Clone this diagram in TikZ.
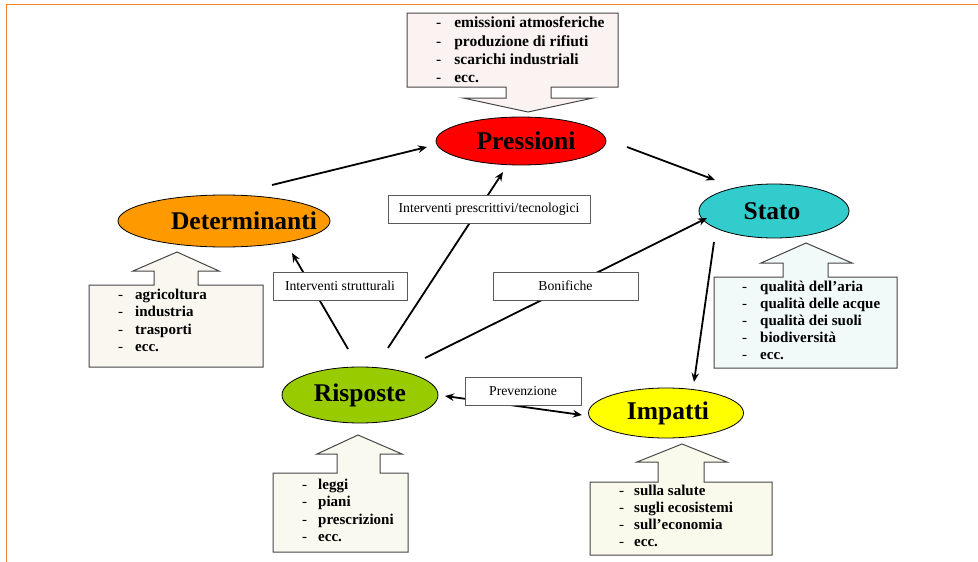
\documentclass[tikz,border=0pt]{standalone}
\usepackage{fontspec}
\setmainfont{Liberation Serif}
\usetikzlibrary{shapes.geometric,arrows.meta,calc}
\definecolor{frameor}{RGB}{242,128,44}
\definecolor{cred}{RGB}{255,0,0}
\definecolor{corange}{RGB}{255,153,0}
\definecolor{ccyan}{RGB}{51,204,204}
\definecolor{cgreen}{RGB}{153,204,0}
\definecolor{cyellow}{RGB}{255,255,0}
\definecolor{fpink}{RGB}{251,242,242}
\definecolor{fcream}{RGB}{249,247,240}
\definecolor{fcyan}{RGB}{242,249,249}
\definecolor{fcream2}{RGB}{249,249,240}
\definecolor{fyel}{RGB}{250,250,236}
\definecolor{boxgray}{RGB}{90,90,90}
\definecolor{callgray}{RGB}{70,70,70}
\tikzset{
  ell/.style={ellipse, draw=black, line width=0.8pt, inner sep=0pt},
  elltext/.style={inner sep=0pt, font=\fontsize{25.5}{28}\selectfont\bfseries},
  lbl/.style={draw=boxgray, fill=white, line width=1pt, inner sep=0pt,
    font=\fontsize{13.7}{16}\selectfont},
  conn/.style={line width=1.8pt, -{Stealth[length=9pt,width=7.5pt]}},
  dconn/.style={line width=1.8pt, {Stealth[length=9pt,width=7.5pt]}-{Stealth[length=9pt,width=7.5pt]}},
  callout/.style={draw=callgray, line width=1pt},
  bul/.style={anchor=west, inner sep=0pt, font=\fontsize{15}{17.3}\selectfont\bfseries, align=left}
}
\newcommand{\dl}{{\mdseries -}}
\begin{document}
\begin{tikzpicture}[x=1pt,y=-1pt]
\useasboundingbox (0,0) rectangle (978,562);
% slide frame
\draw[frameor, line width=1.6pt] (6.5,562) -- (6.5,4.5) -- (978,4.5);

% callouts
\draw[callout, fill=fpink] (407,13) -- (618,13) -- (618,87) -- (551,87) -- (551,98) -- (593,98) -- (528,112) -- (463,98) -- (506,98) -- (506,87) -- (407,87) -- cycle;
\draw[callout, fill=fcream] (89,367) -- (89,285) -- (154,285) -- (154,271) -- (133,271) -- (177,252) -- (219,271) -- (198,271) -- (198,285) -- (263,285) -- (263,367) -- cycle;
\draw[callout, fill=fcyan] (714,368) -- (714,277) -- (783,277) -- (783,263) -- (761,263) -- (806,243) -- (852,263) -- (828,263) -- (828,277) -- (897,277) -- (897,368) -- cycle;
\draw[callout, fill=fcream2] (273,552) -- (273,473) -- (337,473) -- (337,454) -- (317,454) -- (358,435) -- (402,454) -- (380,454) -- (380,473) -- (408,473) -- (408,552) -- cycle;
\draw[callout, fill=fyel] (590,555) -- (590,482) -- (658,482) -- (658,462) -- (637,462) -- (682,444) -- (727,462) -- (704,462) -- (704,482) -- (772,482) -- (772,555) -- cycle;

% callout texts
\node[bul, font=\fontsize{15.5}{18.3}\selectfont\bfseries] (tpre) at (436,51.5) {\begin{tabular}{@{}l@{\hspace{13pt}}l@{}}\dl & emissioni atmosferiche\\ \dl & produzione di rifiuti\\ \dl & scarichi industriali\\ \dl & ecc.\end{tabular}};
\node[bul] (tdet) at (118,322) {\begin{tabular}{@{}l@{\hspace{12pt}}l@{}}\dl & agricoltura\\ \dl & industria\\ \dl & trasporti\\ \dl & ecc.\end{tabular}};
\node[bul, font=\fontsize{15}{17}\selectfont\bfseries] (tsta) at (742,322) {\begin{tabular}{@{}l@{\hspace{13pt}}l@{}}\dl & qualità dell’aria\\ \dl & qualità delle acque\\ \dl & qualità dei suoli\\ \dl & biodiversità\\ \dl & ecc.\end{tabular}};
\node[bul] (tris) at (302,512) {\begin{tabular}{@{}l@{\hspace{11pt}}l@{}}\dl & leggi\\ \dl & piani\\ \dl & prescrizioni\\ \dl & ecc.\end{tabular}};
\node[bul, font=\fontsize{15}{17}\selectfont\bfseries] (timp) at (619,517.5) {\begin{tabular}{@{}l@{\hspace{10pt}}l@{}}\dl & sulla salute\\ \dl & sugli ecosistemi\\ \dl & sull’economia\\ \dl & ecc.\end{tabular}};

% ellipses
\node[ell, fill=cred, minimum width=170pt, minimum height=48pt] (pre) at (521,141) {};
\node[ell, fill=corange, minimum width=212pt, minimum height=52pt] (det) at (224,221) {};
\node[ell, fill=ccyan, minimum width=150pt, minimum height=54pt] (sta) at (774,211) {};
\node[ell, fill=cgreen, minimum width=156pt, minimum height=56pt] (ris) at (360,395) {};
\node[ell, fill=cyellow, minimum width=155pt, minimum height=50pt] (imp) at (666,413) {};
\node[elltext] (preT) at ($(pre)+(5,0)$) {Pressioni};
\node[elltext] (detT) at ($(det)+(20,0)$) {Determinanti};
\node[elltext] (staT) at ($(sta)+(-2,0)$) {Stato};
\node[elltext] (risT) at (ris) {Risposte};
\node[elltext] (impT) at ($(imp)+(2,0)$) {Impatti};

% connectors
\draw[conn] ($(det)+(48,-36)$) -- ($(pre)+(-94,6)$);
\draw[conn] ($(pre)+(106,6)$) -- ($(sta)+(-59,-31)$);
\draw[conn] ($(sta)+(-60,31)$) -- ($(imp)+(28,-31)$);
\draw[conn] ($(ris)+(-12,-46)$) -- ($(det)+(68,32)$);
\draw[conn] ($(ris)+(28,-47)$) -- ($(pre)+(-18,31)$);
\draw[conn] ($(ris)+(65,-37)$) -- ($(sta)+(-67,7)$);
\draw[dconn] ($(ris)+(85,1)$) -- ($(imp)+(-84,2)$);

% label boxes
\node[lbl, minimum width=202pt, minimum height=28pt] (lps) at (489,209) {Interventi prescrittivi/tecnologici};
\node[lbl, minimum width=134pt, minimum height=28pt] (lst) at (340,286) {Interventi strutturali};
\node[lbl, minimum width=145pt, minimum height=28pt] (lbo) at (565.5,286) {Bonifiche};
\node[lbl, minimum width=116pt, minimum height=28pt] (lpr) at (523,391) {Prevenzione};
\end{tikzpicture}
\end{document}
